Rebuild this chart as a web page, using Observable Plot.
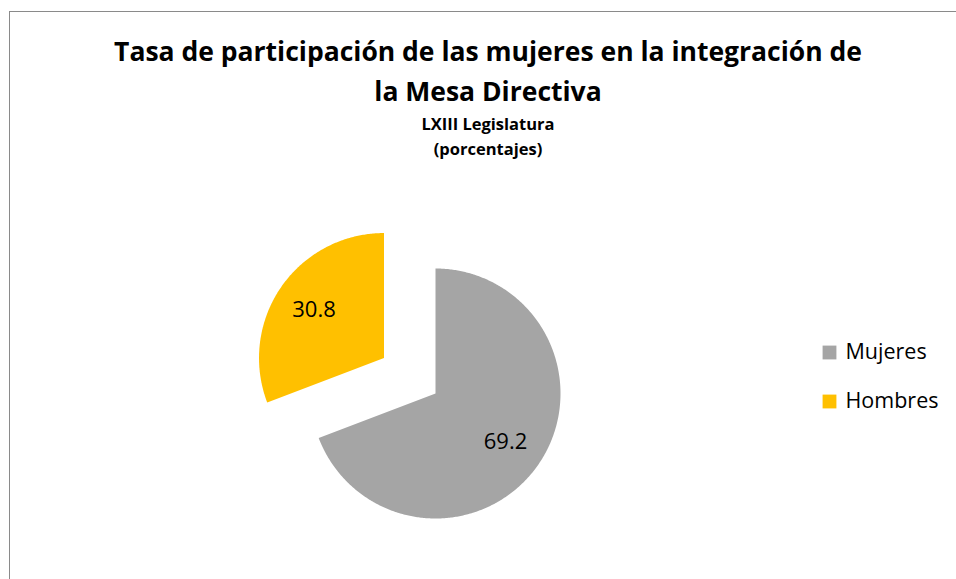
<!DOCTYPE html>
<html>
<head>
<meta charset="utf-8">
<script src="https://cdn.jsdelivr.net/npm/d3@7"></script>
<script src="https://cdn.jsdelivr.net/npm/@observablehq/plot@0.6"></script>
<style>
  html, body { margin: 0; padding: 0; background: #fff; }
  body { width: 956px; height: 579px; position: relative; overflow: hidden; font-family: "Open Sans", Lato, sans-serif; }
  #frame { position: absolute; left: 9px; top: 11px; width: 1000px; height: 700px; border: 1px solid #8a8a8a; box-sizing: border-box; }
  #titles { position: absolute; left: 0; top: 31px; width: 976px; text-align: center; color: #000; }
  #titles .t { font-weight: 700; font-size: 26.5px; line-height: 40px; white-space: nowrap; }
  #titles .s { font-weight: 700; font-size: 16.5px; line-height: 25px; white-space: nowrap; }
  #chart { position: absolute; left: 0; top: 161px; }
</style>
</head>
<body>
<div id="frame"></div>
<div id="titles">
  <div class="t" id="t1"></div>
  <div class="t" id="t2"></div>
  <div class="s" id="s1"></div>
  <div class="s" id="s2"></div>
</div>
<div id="chart"></div>
<script>
// ---- data ----
const titleLines = ["Tasa de participación de las mujeres en la integración de", "la Mesa Directiva"];
const subtitleLines = ["LXIII Legislatura", "(porcentajes)"];
const categories = ["Mujeres", "Hombres"];
const values = [69.2, 30.8];
const valueLabels = ["69.2", "30.8"];
const explodeFraction = [0, 0.5];   // slice explosion, share of radius
const colors = ["#A5A5A5", "#FFC000"];

// ---- layout ----
const W = 956, H = 418;
const cx = 435, cy = 232, R = 125;
const labelRatio = 0.68;
const legendX = 829, legendY0 = 191, legendStep = 49;

document.getElementById("t1").textContent = titleLines[0];
document.getElementById("t2").textContent = titleLines[1];
document.getElementById("s1").textContent = subtitleLines[0];
document.getElementById("s2").textContent = subtitleLines[1];

const rows = categories.map((c, i) => ({category: c, value: values[i], label: valueLabels[i], explode: explodeFraction[i]}));
const arcs = d3.pie().sort(null).value(d => d.value)(rows);

const slicePoints = [];
const labelPoints = [];
arcs.forEach(a => {
  const mid = (a.startAngle + a.endAngle) / 2;
  const off = a.data.explode * R;
  const ox = cx + off * Math.sin(mid), oy = cy - off * Math.cos(mid);
  slicePoints.push({category: a.data.category, x: ox, y: oy});
  const n = Math.max(2, Math.ceil((a.endAngle - a.startAngle) / 0.01));
  for (let k = 0; k <= n; k++) {
    const t = a.startAngle + (a.endAngle - a.startAngle) * k / n;
    slicePoints.push({category: a.data.category, x: ox + R * Math.sin(t), y: oy - R * Math.cos(t)});
  }
  slicePoints.push({category: a.data.category, x: ox, y: oy});
  labelPoints.push({label: a.data.label, x: ox + labelRatio * R * Math.sin(mid), y: oy - labelRatio * R * Math.cos(mid)});
});

const legendRows = categories.map((c, i) => ({category: c, x: legendX, y: legendY0 + i * legendStep}));

const chart = Plot.plot({
  width: W,
  height: H,
  margin: 0,
  style: {fontFamily: "'Open Sans', Lato, sans-serif", background: "transparent", overflow: "visible"},
  x: {domain: [0, W], range: [0, W], axis: null},
  y: {domain: [0, H], range: [0, H], axis: null},
  color: {domain: categories, range: colors, legend: false},
  marks: [
    Plot.line(slicePoints, {x: "x", y: "y", z: "category", fill: "category", stroke: null, curve: "linear"}),
    Plot.text(labelPoints, {x: "x", y: "y", text: "label", fontSize: 22, fill: "#000", textAnchor: "middle"}),
    Plot.dot(legendRows, {x: "x", y: "y", fill: "category", symbol: "square", r: 7.8, stroke: null}),
    Plot.text(legendRows, {x: "x", y: "y", text: "category", dx: 16, dy: 0, textAnchor: "start", fontSize: 21.5, fill: "#000"})
  ]
});
document.getElementById("chart").appendChild(chart);
</script>
</body>
</html>
